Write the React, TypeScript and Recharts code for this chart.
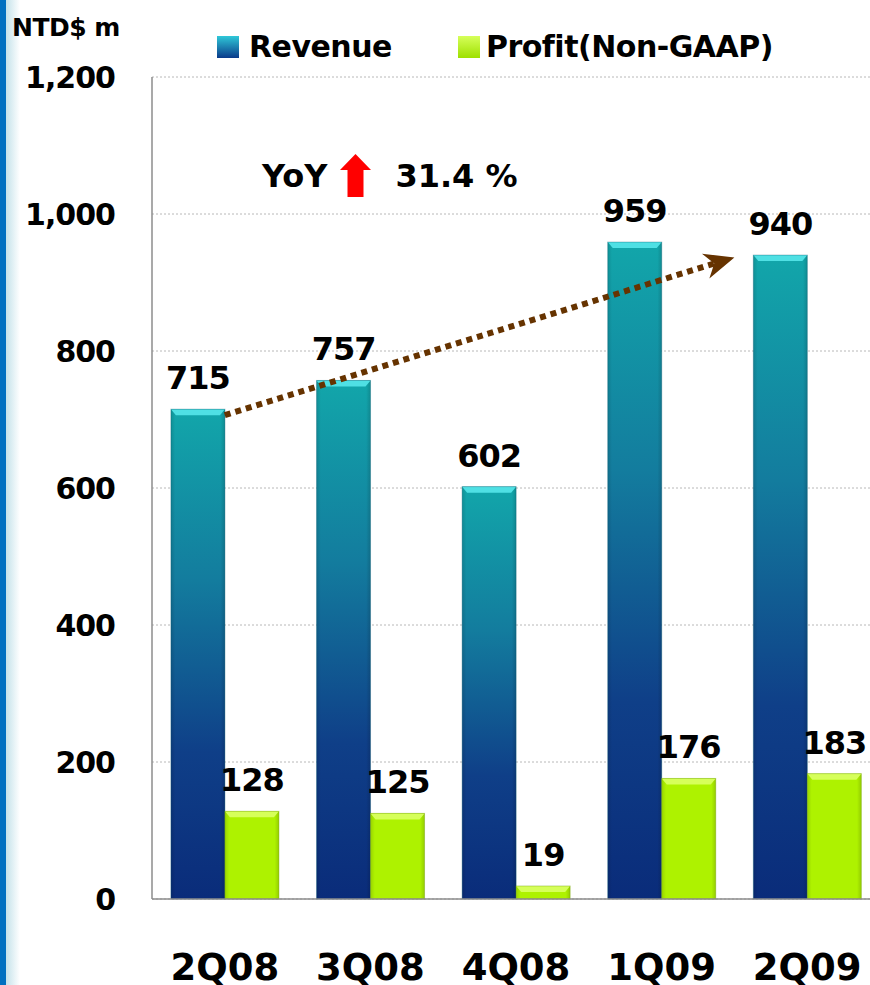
import { BarChart, Bar, XAxis, YAxis, CartesianGrid, LabelList, ReferenceLine } from 'recharts'

const quarters = ['2Q08', '3Q08', '4Q08', '1Q09', '2Q09']
const revenue = [715, 757, 602, 959, 940]
const profit = [128, 125, 19, 176, 183]
const yTicks = [0, 200, 400, 600, 800, 1000, 1200]
// dotted trend arrow: from 2Q08 revenue toward 2Q09
const trendFrom = { x: '2Q08', y: 715 }
const trendTo = { x: '2Q09', y: 968 }
const yoyText = '31.4 %'

const FONT = '"DejaVu Sans", Verdana, sans-serif'

const data = quarters.map((q, i) => ({ q, revenue: revenue[i], profit: profit[i] }))

function RevenueBar(p: any) {
  const { x, y, width, height } = p
  if (!height || height <= 0) return null
  return (
    <g>
      <rect x={x} y={y} width={width} height={height} fill="url(#revGrad)" />
      <rect x={x} y={y} width={width} height={height} fill="url(#sideShade)" />
      <polygon points={`${x},${y} ${x + width},${y} ${x + width - 5},${y + 6} ${x + 5},${y + 6}`} fill="#4fe0e4" />
      <rect x={x} y={y} width={width} height={height} fill="none" stroke="#0a5a70" strokeOpacity={0.35} strokeWidth={1} />
    </g>
  )
}

function ProfitBar(p: any) {
  const { x, y, width, height } = p
  if (!height || height <= 0) return null
  const cap = Math.min(6, height / 2)
  return (
    <g>
      <rect x={x} y={y} width={width} height={height} fill="#aef200" />
      <rect x={x} y={y} width={width} height={height} fill="url(#sideShade)" />
      <polygon points={`${x},${y} ${x + width},${y} ${x + width - 5},${y + cap} ${x + 5},${y + cap}`} fill="#d6ff5a" />
      <rect x={x} y={y} width={width} height={height} fill="none" stroke="#6f9a00" strokeOpacity={0.4} strokeWidth={1} />
    </g>
  )
}

function TrendArrow(p: any) {
  const { x1, y1, x2, y2 } = p
  if ([x1, y1, x2, y2].some(v => typeof v !== 'number' || isNaN(v))) return null
  const tipT = 0.875
  const endT = 0.84
  const tx = x1 + (x2 - x1) * tipT
  const ty = y1 + (y2 - y1) * tipT
  const ex = x1 + (x2 - x1) * endT
  const ey = y1 + (y2 - y1) * endT
  const ang = Math.atan2(ty - y1, tx - x1)
  const len = 30
  const half = 13
  const bx = tx - len * Math.cos(ang)
  const by = ty - len * Math.sin(ang)
  const nx = -Math.sin(ang)
  const ny = Math.cos(ang)
  const mx = tx - len * 0.7 * Math.cos(ang)
  const my = ty - len * 0.7 * Math.sin(ang)
  return (
    <g>
      <line x1={x1} y1={y1 + 6} x2={ex} y2={ey} stroke="#663300" strokeWidth={6} strokeDasharray="6 5" />
      <polygon
        points={`${tx},${ty} ${bx + nx * half},${by + ny * half} ${mx},${my} ${bx - nx * half},${by - ny * half}`}
        fill="#663300"
      />
    </g>
  )
}

const labelStyle = { fill: '#000', fontSize: 32, fontWeight: 'bold' as const, fontFamily: FONT, letterSpacing: -1 }

export default function App() {
  return (
    <div style={{ position: 'absolute', left: 0, top: 0, width: 870, height: 985, overflow: 'hidden', background: '#fff', fontFamily: FONT }}>
      <div style={{ position: 'absolute', left: 0, top: 0, width: 6, height: 985, background: '#0070c0' }} />
      <div style={{ position: 'absolute', left: 6, top: 0, width: 14, height: 985, background: 'linear-gradient(to right, #c4e2ea, #ffffff)' }} />

      <div style={{ position: 'absolute', left: 0, top: 0 }}>
        <BarChart width={880} height={985} data={data} margin={{ top: 77, right: 0, left: 0, bottom: 0 }} barCategoryGap="13%" barGap={0}>
          <defs>
            <linearGradient id="revGrad" x1="0" y1="0" x2="0" y2="1">
              <stop offset="0" stopColor="#12a6aa" />
              <stop offset="0.35" stopColor="#137c9e" />
              <stop offset="0.7" stopColor="#0f3f88" />
              <stop offset="1" stopColor="#0a2c7a" />
            </linearGradient>
            <linearGradient id="sideShade" x1="0" y1="0" x2="1" y2="0">
              <stop offset="0" stopColor="#000" stopOpacity={0.12} />
              <stop offset="0.08" stopColor="#000" stopOpacity={0} />
              <stop offset="0.92" stopColor="#000" stopOpacity={0} />
              <stop offset="1" stopColor="#000" stopOpacity={0.15} />
            </linearGradient>
          </defs>
          <CartesianGrid vertical={false} stroke="#b8b8b8" strokeDasharray="2 2" />
          <XAxis
            dataKey="q"
            height={86}
            axisLine={{ stroke: '#8c8c8c', strokeWidth: 1.5 }}
            tickLine={false}
            tick={(t: any) => (
              <text x={t.x} y={t.y} dy={73} textAnchor="middle" fill="#000" fontSize={37} fontWeight="bold" fontFamily={FONT}>
                {t.payload.value}
              </text>
            )}
          />
          <YAxis
            width={152}
            domain={[0, 1200]}
            ticks={yTicks}
            interval={0}
            axisLine={{ stroke: '#8c8c8c', strokeWidth: 1.5 }}
            tickLine={false}
            tick={(t: any) => (
              <text x={115} y={t.y} dy={11} textAnchor="end" fill="#000" fontSize={30} fontWeight="bold" fontFamily={FONT} letterSpacing={-1}>
                {Number(t.payload.value).toLocaleString('en-US')}
              </text>
            )}
          />
          <Bar dataKey="revenue" shape={RevenueBar} isAnimationActive={false}>
            <LabelList dataKey="revenue" position="top" offset={20} style={labelStyle} />
          </Bar>
          <Bar dataKey="profit" shape={ProfitBar} isAnimationActive={false}>
            <LabelList dataKey="profit" position="top" offset={20} style={labelStyle} />
          </Bar>
          <ReferenceLine segment={[trendFrom, trendTo]} shape={TrendArrow} ifOverflow="visible" />
        </BarChart>
      </div>

      <div style={{ position: 'absolute', left: 12, top: 13, fontSize: 25, fontWeight: 'bold', color: '#000', whiteSpace: 'nowrap', letterSpacing: -0.5 }}>NTD$ m</div>

      <div style={{ position: 'absolute', left: 217, top: 29, display: 'flex', alignItems: 'center', fontSize: 30, fontWeight: 'bold', color: '#000', whiteSpace: 'nowrap', letterSpacing: -0.5 }}>
        <span style={{ display: 'inline-block', width: 22, height: 22, background: 'linear-gradient(to bottom, #2fc8d8, #0a3a8a)', marginRight: 10 }} />
        <span>Revenue</span>
        <span style={{ display: 'inline-block', width: 22, height: 22, background: 'linear-gradient(to bottom, #d6ff5a, #9ee000)', marginLeft: 66, marginRight: 6 }} />
        <span>Profit(Non-GAAP)</span>
      </div>

      <div style={{ position: 'absolute', left: 262, top: 154, display: 'flex', alignItems: 'center', fontSize: 32, fontWeight: 'bold', color: '#000', whiteSpace: 'nowrap' }}>
        <span>YoY</span>
        <svg width={31} height={43} style={{ marginLeft: 13, marginRight: 24 }}>
          <polygon points="15.5,0 31,16 23.5,16 23.5,43 7.5,43 7.5,16 0,16" fill="#ff0000" />
        </svg>
        <span>{yoyText}</span>
      </div>
    </div>
  )
}
